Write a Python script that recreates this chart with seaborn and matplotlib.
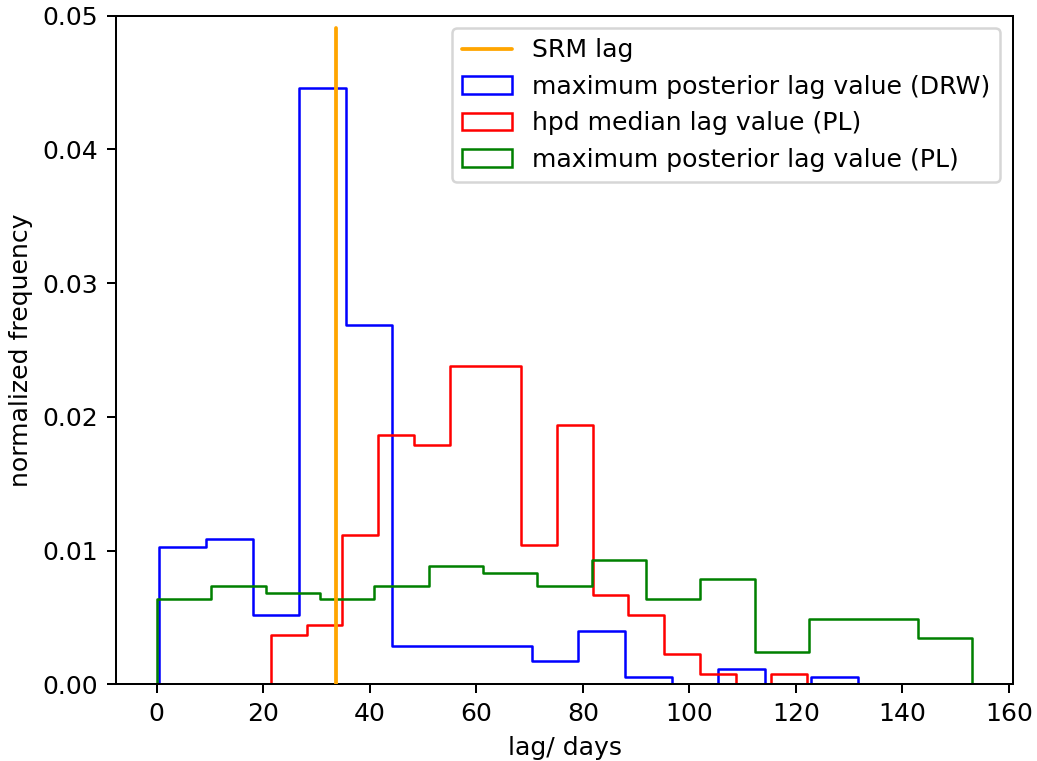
import numpy as np
import pandas as pd
import seaborn as sns
import matplotlib
matplotlib.use("Agg")
import matplotlib.pyplot as plt
from matplotlib.patches import Patch
from matplotlib.lines import Line2D

# ---- data ----
srm_lag = 33.6
srm_top = 0.0491

# maximum posterior lag value (DRW): 15 bins, counts (N = 200)
drw_edges = np.linspace(0.5, 131.6, 16)
drw_counts = [18, 19, 9, 78, 47, 5, 5, 5, 3, 7, 1, 0, 2, 0, 1]

# hpd median lag value (PL)
hpd_edges = np.linspace(21.4, 122.1, 16)
hpd_counts = [5, 6, 15, 25, 24, 32, 32, 14, 26, 9, 7, 3, 1, 0, 1]

# maximum posterior lag value (PL)
pl_edges = np.linspace(0.0, 153.1, 16)
pl_counts = [13, 15, 14, 13, 15, 18, 17, 15, 19, 13, 16, 5, 10, 10, 7]

labels = ["SRM lag",
          "maximum posterior lag value (DRW)",
          "hpd median lag value (PL)",
          "maximum posterior lag value (PL)"]
colors = ["orange", "blue", "red", "green"]

# ---- figure ----
sns.set_style("ticks")
plt.rcParams["font.family"] = ["DejaVu Sans"]
plt.rcParams.update({
    "font.size": 10,
    "axes.labelsize": 10,
    "xtick.labelsize": 10,
    "ytick.labelsize": 10,
    "legend.fontsize": 10,
    "axes.edgecolor": "black",
    "axes.linewidth": 0.8,
    "xtick.color": "black",
    "ytick.color": "black",
    "xtick.major.size": 3.5,
    "ytick.major.size": 3.5,
    "xtick.major.width": 0.8,
    "ytick.major.width": 0.8,
    "xtick.major.pad": 3.5,
    "ytick.major.pad": 3.5,
    "text.color": "black",
    "axes.labelcolor": "black",
    "axes.labelpad": 4.0,
})

DPI = 181
fig = plt.figure(figsize=(1037 / DPI, 761 / DPI), dpi=DPI)
W, H = 1037, 761
ax = fig.add_axes([116 / W, (H - 684.3) / H, 897 / W, 668.6 / H])


def draw(edges, counts, color):
    edges = np.asarray(edges)
    centers = (edges[:-1] + edges[1:]) / 2
    # pad with empty bins so the outline drops to the baseline at both ends
    w = edges[1] - edges[0]
    ext_edges = np.concatenate([[edges[0] - w], edges, [edges[-1] + w]])
    ext_centers = np.concatenate([[edges[0] - w / 2], centers, [edges[-1] + w / 2]])
    ext_counts = np.concatenate([[0], counts, [0]]).astype(float)
    total = np.sum(counts)
    # density = count / (N * width)
    df = pd.DataFrame({"x": ext_centers, "w": ext_counts / (total * w)})
    sns.histplot(data=df, x="x", weights="w", bins=[float(e) for e in ext_edges],
                 stat="count", element="step", fill=False, color=color,
                 linewidth=1.0, ax=ax)


draw(drw_edges, drw_counts, colors[1])
draw(hpd_edges, hpd_counts, colors[2])
draw(pl_edges, pl_counts, colors[3])

sns.lineplot(x=[srm_lag, srm_lag], y=[0, srm_top], color=colors[0],
             linewidth=1.5, ax=ax, estimator=None, sort=False, zorder=5)

ax.set_xlim(-7.655, 160.755)
ax.set_ylim(0, 0.05)
ax.set_xticks(np.arange(0, 161, 20))
ax.set_yticks(np.arange(0, 0.051, 0.01))
ax.yaxis.set_major_formatter(matplotlib.ticker.FormatStrFormatter("%.2f"))
ax.set_xlabel("lag/ days")
ax.set_ylabel("normalized frequency")
for s in ax.spines.values():
    s.set_visible(True)

handles = [Line2D([0], [0], color=colors[0], linewidth=1.5)] + [
    Patch(facecolor="none", edgecolor=c, linewidth=1.0) for c in colors[1:]
]
ax.legend(handles, labels, loc="upper right", frameon=True, fancybox=True,
          framealpha=0.8, edgecolor="#cccccc")

fig.savefig("out.png", dpi=DPI)
